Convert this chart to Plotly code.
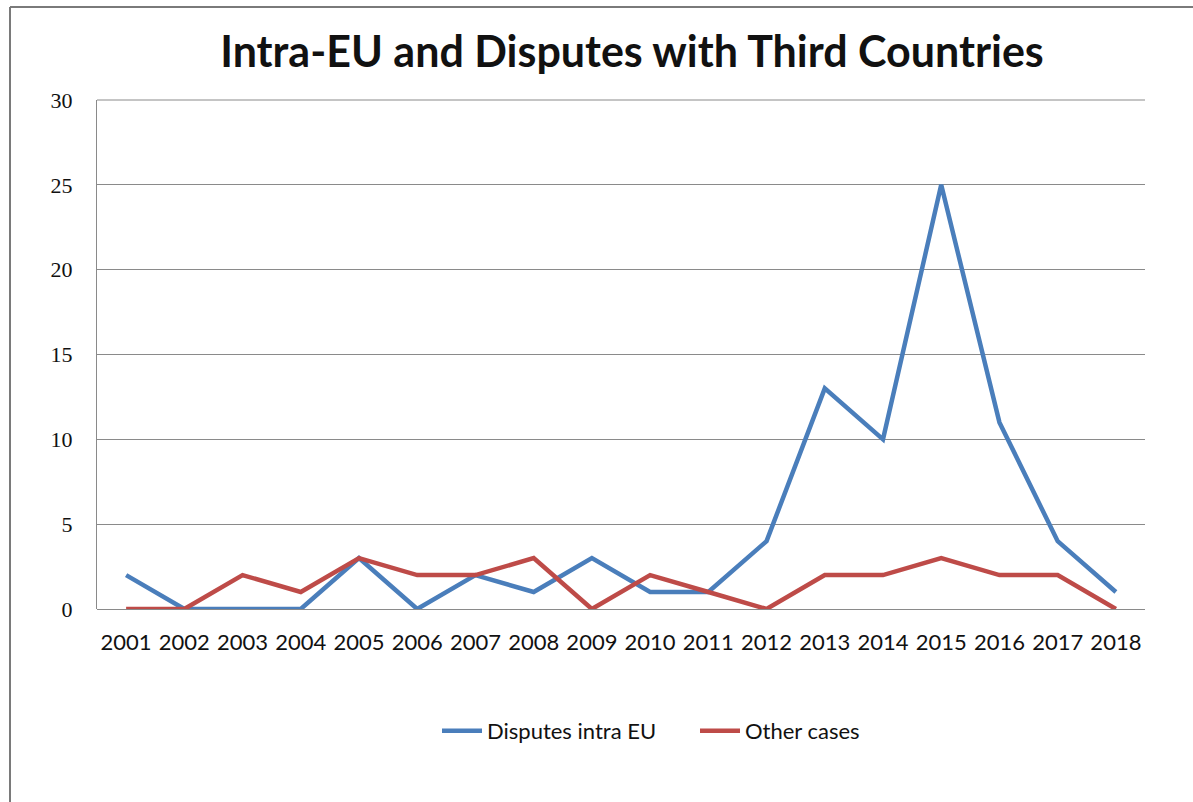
import plotly.graph_objects as go

years = ["2001", "2002", "2003", "2004", "2005", "2006", "2007", "2008", "2009",
         "2010", "2011", "2012", "2013", "2014", "2015", "2016", "2017", "2018"]
intra_eu = [2, 0, 0, 0, 3, 0, 2, 1, 3, 1, 1, 4, 13, 10, 25, 11, 4, 1]
other_cases = [0, 0, 2, 1, 3, 2, 2, 3, 0, 2, 1, 0, 2, 2, 3, 2, 2, 0]
y_ticks = [0, 5, 10, 15, 20, 25, 30]

W, H = 1193, 802
L, R, T, B = 97, 1145, 100, 609

def px_x(px):
    return (px - L) / (R - L)

def px_y(py):
    return (B - py) / (B - T)

fig = go.Figure()
fig.add_trace(go.Scatter(x=years, y=intra_eu, mode="lines", name="Disputes intra EU",
                         line=dict(color="#4A7EBB", width=4.5)))
fig.add_trace(go.Scatter(x=years, y=other_cases, mode="lines", name="Other cases",
                         line=dict(color="#BE4B48", width=4.5)))

fig.update_layout(
    width=W, height=H,
    margin=dict(l=L, r=W - R, t=T, b=H - B),
    paper_bgcolor="white", plot_bgcolor="white",
    title=dict(text="<b>Intra-EU and Disputes with Third Countries</b>",
               x=px_x(632), xref="paper", xanchor="center",
               y=1 - 52 / H, yref="container", yanchor="middle",
               font=dict(family="Lato", size=43, color="#111111")),
    xaxis=dict(type="category", range=[-0.5, 17.5], showgrid=False,
               showline=False, ticks="", zeroline=False,
               tickfont=dict(family="Lato", size=22, color="#111111"),
               ticklabelstandoff=18),
    yaxis=dict(range=[0, 30], tickvals=y_ticks, showgrid=True, gridcolor="#8a8a8a",
               gridwidth=1, showline=True, linecolor="#8a8a8a", linewidth=1,
               zeroline=True, zerolinecolor="#8a8a8a", zerolinewidth=1,
               ticks="", tickfont=dict(family="Liberation Serif", size=22, color="#111111"),
               ticklabelstandoff=19),
    legend=dict(orientation="h", x=px_x(437), xanchor="left", y=px_y(731),
                yanchor="middle", font=dict(family="Lato", size=22, color="#111111"),
                itemwidth=40, tracegroupgap=0, entrywidth=203, entrywidthmode="pixels"),
    showlegend=True,
)

# outer frame (left and top edges visible)
fig.add_shape(type="line", xref="paper", yref="paper",
              x0=px_x(10), x1=px_x(10), y0=px_y(805), y1=px_y(7),
              line=dict(color="#7a7a7a", width=2))
fig.add_shape(type="line", xref="paper", yref="paper",
              x0=px_x(10), x1=px_x(1200), y0=px_y(7), y1=px_y(7),
              line=dict(color="#7a7a7a", width=2))
# top border of plot area
fig.add_shape(type="line", xref="paper", yref="paper",
              x0=0, x1=1, y0=1, y1=1, line=dict(color="#8a8a8a", width=1))

fig.write_html("out.html")
